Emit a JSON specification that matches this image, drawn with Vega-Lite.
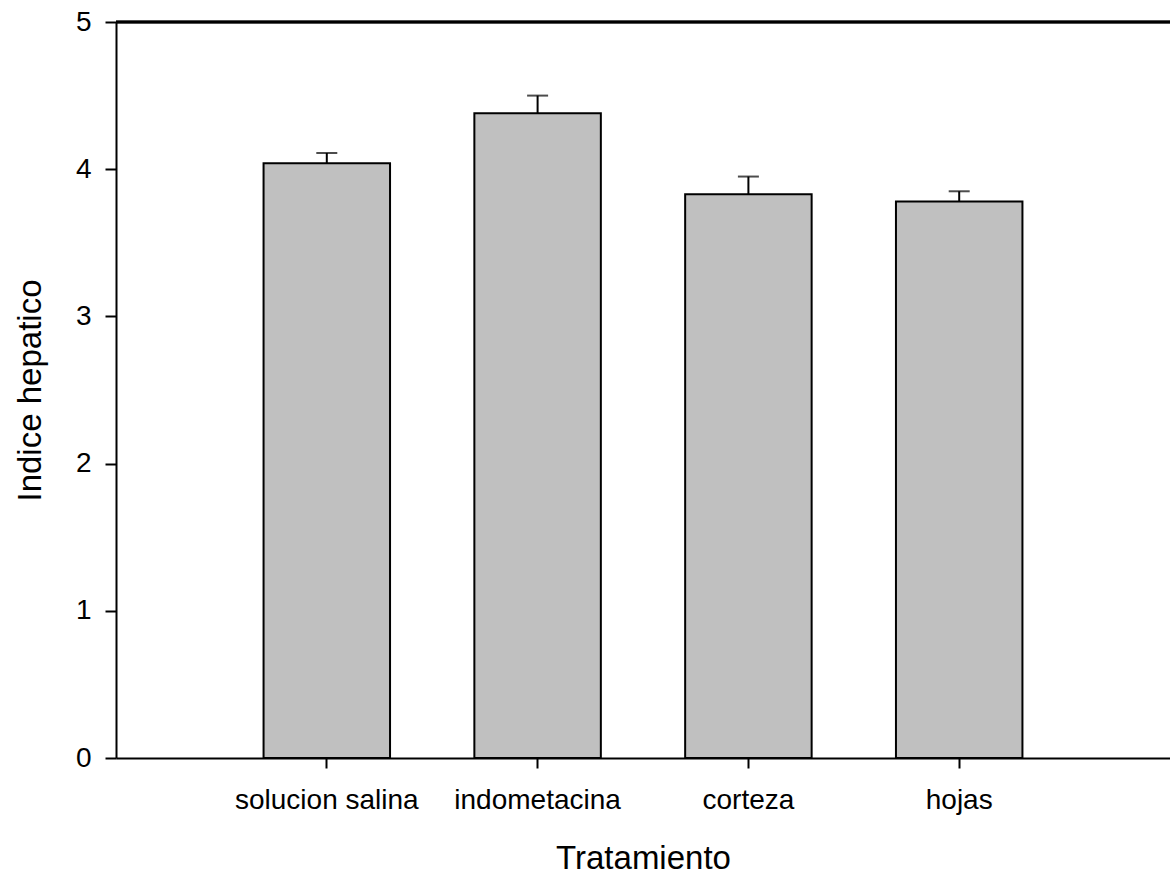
{
  "$schema": "https://vega.github.io/schema/vega-lite/v6.json",
  "autosize": {"type": "none"},
  "padding": {"left": 116, "top": 22, "right": 0, "bottom": 122},
  "width": 1054,
  "height": 736,
  "background": "white",
  "config": {
    "view": {"stroke": null},
    "font": "Liberation Sans",
    "axis": {
      "grid": false,
      "domainColor": "black",
      "domainWidth": 2,
      "tickColor": "black",
      "tickWidth": 2,
      "labelColor": "black",
      "titleColor": "black",
      "labelFont": "Liberation Sans",
      "titleFont": "Liberation Sans",
      "titleFontWeight": "normal",
      "labelLimit": 400
    }
  },
  "data": {
    "values": [
      {"tratamiento": "solucion salina", "media": 4.04, "lim_sup": 4.11},
      {"tratamiento": "indometacina", "media": 4.38, "lim_sup": 4.50},
      {"tratamiento": "corteza", "media": 3.83, "lim_sup": 3.95},
      {"tratamiento": "hojas", "media": 3.78, "lim_sup": 3.85}
    ]
  },
  "layer": [
    {
      "encoding": {
        "x": {
          "field": "tratamiento",
          "type": "nominal",
          "sort": null,
          "scale": {"paddingInner": 0.4, "paddingOuter": 0.7},
          "axis": {
            "title": "Tratamiento",
            "labelAngle": 0,
            "labelFontSize": 28,
            "labelPadding": 18,
            "tickSize": 10,
            "titleFontSize": 33,
            "titlePadding": 28
          }
        }
      },
      "layer": [
        {
          "mark": {"type": "rule", "color": "black", "strokeWidth": 2},
          "encoding": {
            "y": {"field": "media", "type": "quantitative"},
            "y2": {"field": "lim_sup"}
          }
        },
        {
          "mark": {"type": "tick", "color": "black", "size": 21, "thickness": 2},
          "encoding": {
            "y": {"field": "lim_sup", "type": "quantitative"}
          }
        },
        {
          "mark": {"type": "bar", "fill": "#c0c0c0", "stroke": "black", "strokeWidth": 2},
          "encoding": {
            "y": {
              "field": "media",
              "type": "quantitative",
              "scale": {"domain": [0, 5], "nice": false, "zero": true},
              "axis": {
                "title": "Indice hepatico",
                "values": [0, 1, 2, 3, 4, 5],
                "format": "d",
                "labelFontSize": 28,
                "labelPadding": 14,
                "tickSize": 11,
                "titleFontSize": 33,
                "titlePadding": 28
              }
            }
          }
        }
      ]
    },
    {
      "mark": {"type": "rule", "color": "black", "strokeWidth": 2.5},
      "encoding": {
        "y": {"datum": 5, "type": "quantitative"}
      }
    }
  ]
}
